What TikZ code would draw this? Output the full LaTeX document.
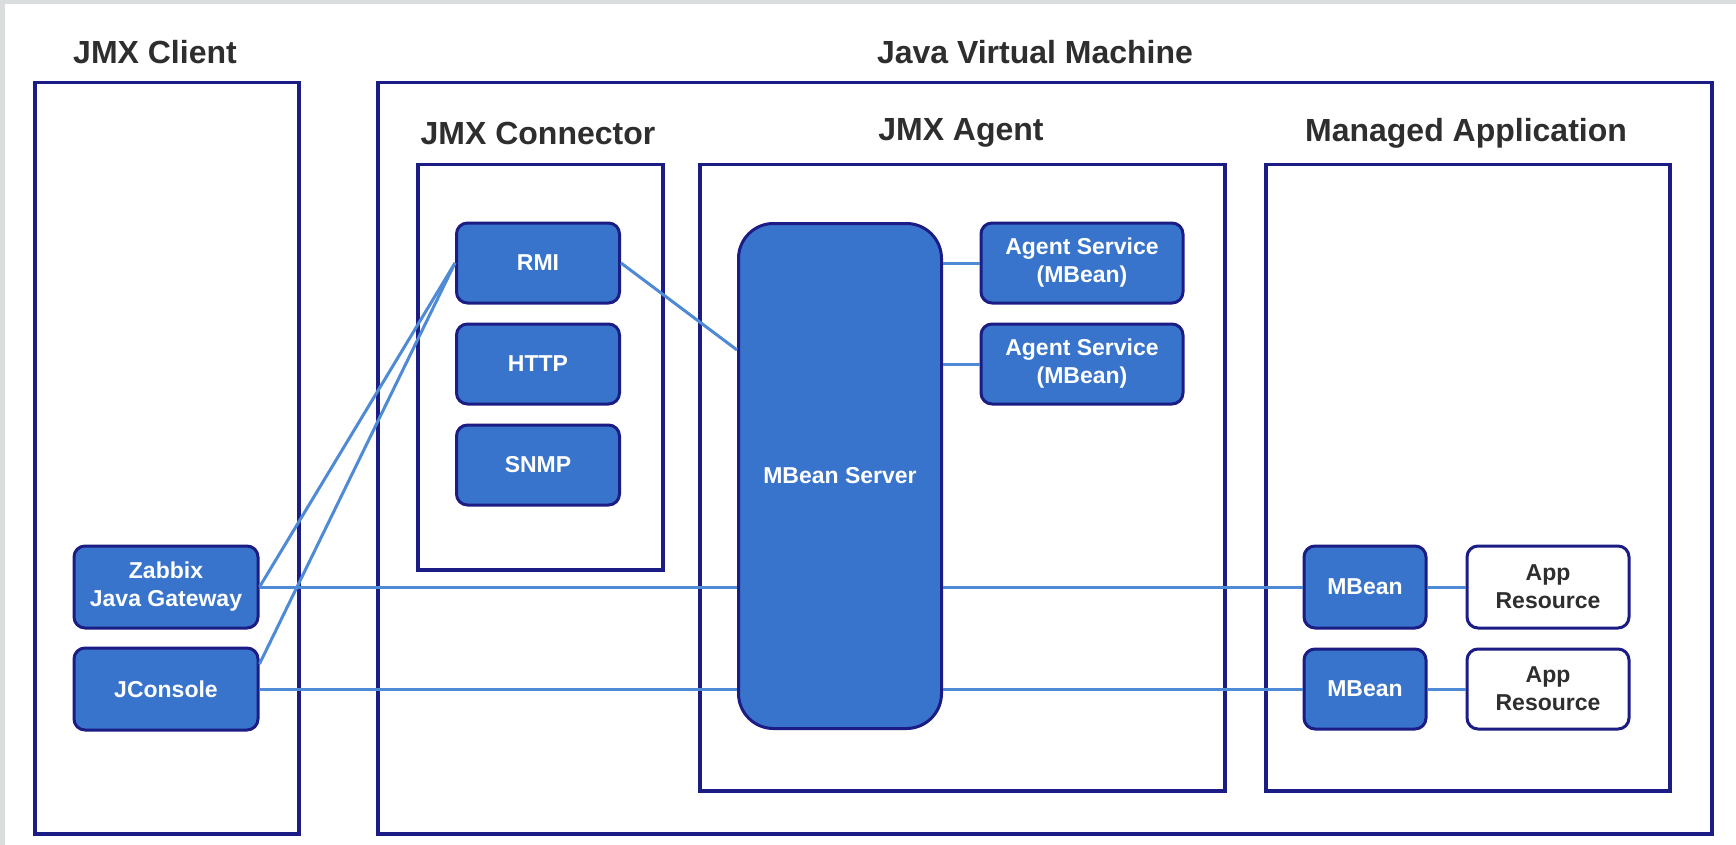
\documentclass[tikz,border=0pt]{standalone}
\usepackage{fontspec}
\setmainfont{Liberation Sans}
\usetikzlibrary{calc}

\definecolor{navy}{HTML}{1C1C85}
\definecolor{beanblue}{HTML}{3874CB}
\definecolor{wireblue}{HTML}{4F8AD6}
\definecolor{titlegray}{HTML}{2E2E2E}
\definecolor{edgegray}{HTML}{D9DDDD}

\tikzset{
    dims/.style 2 args={minimum width=#1pt, minimum height=#2pt, inner sep=0pt},
    container/.style={draw=navy, line width=3.5pt, anchor=north west},
    title/.style={text=titlegray, font=\fontsize{32}{38}\selectfont\bfseries},
    bean/.style={draw=navy, fill=beanblue, line width=3pt, rounded corners=11pt,
        text=white, align=center, font=\fontsize{23}{28}\selectfont\bfseries},
    resource/.style={bean, fill=white, text=titlegray},
    wire/.style={draw=wireblue, line width=3pt}
}

\begin{document}
\begin{tikzpicture}[x=1pt, y=-1pt]
    \fill[white] (0,0) rectangle (1736,845);
    \useasboundingbox (0,0) rectangle (1736,845);
    \fill[edgegray] (0,0) rectangle (1736,4);
    \fill[edgegray] (0,0) rectangle (5,845);
    % Outer containers
    \node[container, dims={264}{751}] (client) at (33,81) {};
    \node[container, dims={1334}{751}] (jvm) at (376,81) {};
    \node[title] (clienttitle) at (155,52) {JMX Client};
    \node[title] (jvmtitle) at (1035,52) {Java Virtual Machine};
    % Inner containers
    \node[container, dims={245}{405}] (connector) at (416,163) {};
    \node[container, dims={525}{626}] (agent) at (698,163) {};
    \node[container, dims={404}{626}] (managed) at (1264,163) {};
    \node[title] (connectortitle) at (538,133) {JMX Connector};
    \node[title] (agenttitle) at (961,133) {JMX Agent};
    \node[title] (managedtitle) at (1466,133) {Managed Application};
    % Client side
    \node[bean, dims={184}{82}] (zabbix) at (166,587) {Zabbix\\Java Gateway};
    \node[bean, dims={184}{82}] (jconsole) at (166,689) {JConsole};
    % Protocol boxes
    \node[bean, dims={163}{80}] (rmi) at (538,263) {RMI};
    \node[bean, dims={163}{80}] (http) at (538,364) {HTTP};
    \node[bean, dims={163}{80}] (snmp) at (538,465) {SNMP};
    % Agent
    \node[bean, dims={203}{505}, rounded corners=35pt] (server) at (840,476) {MBean Server};
    \node[bean, dims={202}{80}] (service1) at (1082,263) {Agent Service\\(MBean)};
    \node[bean, dims={202}{80}] (service2) at (1082,364) {Agent Service\\(MBean)};
    % Managed application
    \node[bean, dims={122}{82}] (mbean1) at (1365,587) {MBean};
    \node[bean, dims={122}{80}] (mbean2) at (1365,689) {MBean};
    \node[resource, dims={162}{82}] (res1) at (1548,587) {App\\Resource};
    \node[resource, dims={162}{80}] (res2) at (1548,689) {App\\Resource};
    % Connections
    \draw[wire] (zabbix.east) -- (rmi.west);
    \draw[wire] (jconsole.15) -- (rmi.west);
    \draw[wire] (rmi.east) -- ($(server.west)+(0,-126)$); % RMI into server
    \draw[wire] (zabbix.east) -- (server.west |- zabbix.east);
    \draw[wire] (jconsole.east) -- (server.west |- jconsole.east);
    \draw[wire] (server.east |- service1.west) -- (service1.west);
    \draw[wire] (server.east |- service2.west) -- (service2.west);
    \draw[wire] (server.east |- mbean1.west) -- (mbean1.west);
    \draw[wire] (server.east |- mbean2.west) -- (mbean2.west);
    \draw[wire] (mbean1.east) -- (res1.west);
    \draw[wire] (mbean2.east) -- (res2.west);
\end{tikzpicture}
\end{document}
